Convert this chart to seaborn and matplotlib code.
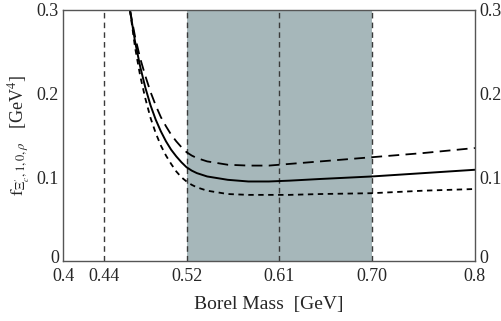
import numpy as np
import pandas as pd
import matplotlib
matplotlib.use("Agg")
import matplotlib.pyplot as plt
import matplotlib.transforms as mtransforms
import seaborn as sns

# Borel mass grid and curve values
borel = [0.465, 0.47, 0.475, 0.48, 0.485, 0.49, 0.495, 0.50, 0.505, 0.51, 0.515,
         0.52, 0.525, 0.53, 0.54, 0.55, 0.56, 0.58, 0.60, 0.62, 0.65, 0.70, 0.75, 0.80]
central = [0.300, 0.262, 0.232, 0.207, 0.186, 0.169, 0.155, 0.143, 0.133, 0.125,
           0.118, 0.112, 0.108, 0.105, 0.101, 0.099, 0.097, 0.095, 0.095, 0.096,
           0.098, 0.101, 0.105, 0.109]
upper = [0.300, 0.268, 0.242, 0.221, 0.202, 0.186, 0.172, 0.161, 0.151, 0.143,
         0.136, 0.130, 0.126, 0.123, 0.119, 0.117, 0.115, 0.114, 0.114, 0.116,
         0.119, 0.124, 0.129, 0.135]
lower = [0.300, 0.255, 0.221, 0.194, 0.171, 0.153, 0.138, 0.126, 0.116, 0.107,
         0.100, 0.095, 0.091, 0.088, 0.084, 0.082, 0.080, 0.079, 0.079, 0.079,
         0.080, 0.081, 0.084, 0.086]

vlines = [0.44, 0.52, 0.61, 0.70]
window = (0.52, 0.70)
xticks = [0.4, 0.44, 0.52, 0.61, 0.70, 0.8]
xtick_labels = ["0.4", "0.44", "0.52", "0.61", "0.70", "0.8"]
yticks = [0, 0.1, 0.2, 0.3]
ytick_labels = ["0", "0.1", "0.2", "0.3"]

df = pd.DataFrame({"M": borel, "central": central, "upper": upper, "lower": lower})

sns.set_style("white")
plt.rcParams["font.family"] = ["Liberation Serif", "DejaVu Serif"]
plt.rcParams["mathtext.fontset"] = "stix"

fig = plt.figure(figsize=(5.02, 3.21), dpi=100)
ax = fig.add_axes([0.1255, 0.187, 0.8205, 0.782])

ax.axvspan(*window, color="#a6b7ba", lw=0)
for v in vlines:
    ax.axvline(v, color="#3a3a3a", ls=(0, (4, 3)), lw=1.0)

sns.lineplot(data=df, x="M", y="central", ax=ax, color="black", lw=1.4)
sns.lineplot(data=df, x="M", y="upper", ax=ax, color="black", lw=1.3,
             linestyle=(0, (6, 3.5)))
sns.lineplot(data=df, x="M", y="lower", ax=ax, color="black", lw=1.3,
             linestyle=(0, (3, 2.5)))

ax.set_xlim(0.4, 0.8)
ax.set_ylim(0, 0.3)
ax.set_xticks(xticks)
ax.set_xticklabels(xtick_labels)
ax.set_yticks(yticks)
ax.set_yticklabels(ytick_labels)
ax.tick_params(axis="both", labelsize=13, length=0)
ax.tick_params(axis="x", pad=5)
ax.tick_params(axis="y", pad=3, right=True, labelright=True)

# lift the "0" labels a little so they clear the x tick labels
zero_tick = ax.yaxis.get_major_ticks()[0]
lift = mtransforms.ScaledTranslation(0, 3 / 72, fig.dpi_scale_trans)
for lab in (zero_tick.label1, zero_tick.label2):
    lab.set_transform(lab.get_transform() + lift)

for s in ax.spines.values():
    s.set_color("#555555")
    s.set_linewidth(1.0)

ax.set_xlabel("Borel Mass  [GeV]", fontsize=14, labelpad=8)
ax.set_ylabel(r"$\mathrm{f}_{\Xi^{\prime}_c,1,0,\rho}$   [GeV$^4$]", fontsize=13, labelpad=3)

fig.savefig("out.png", dpi=100)
